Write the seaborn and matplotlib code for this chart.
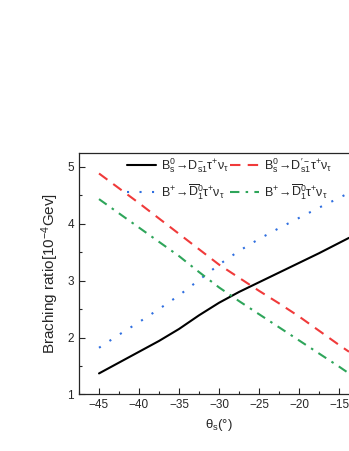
import seaborn as sns
import pandas as pd
import matplotlib.pyplot as plt
from matplotlib.ticker import MultipleLocator

# theta_s (deg) and branching ratios [10^-4]
theta = [-45, -42.5, -40, -37.5, -35, -32.5, -30, -27.5, -25, -22.5, -20, -17.5, -15, -13.75]
br_ds1 = [1.37, 1.56, 1.75, 1.94, 2.15, 2.39, 2.61, 2.80, 2.97, 3.14, 3.31, 3.48, 3.66, 3.75]
br_ds1p = [4.88, 4.62, 4.36, 4.09, 3.82, 3.55, 3.28, 3.05, 2.82, 2.60, 2.37, 2.12, 1.87, 1.75]
br_d1_blue = [1.82, 2.05, 2.27, 2.50, 2.74, 3.01, 3.28, 3.52, 3.73, 3.92, 4.10, 4.28, 4.45, 4.54]
br_d1_green = [4.43, 4.18, 3.93, 3.68, 3.43, 3.15, 2.88, 2.64, 2.41, 2.18, 1.95, 1.72, 1.49, 1.37]

labels = [
    r"$\mathrm{B_s^0\!\rightarrow\!D_{s1}^{-}\tau^{+}\nu_{\tau}}$",
    r"$\mathrm{B_s^0\!\rightarrow\!D_{s1}^{\prime-}\tau^{+}\nu_{\tau}}$",
    r"$\mathrm{B^{+}\!\rightarrow\!\overline{D}_{1}^{0}\tau^{+}\nu_{\tau}}$",
    r"$\mathrm{B^{+}\!\rightarrow\!\overline{D}_{1}^{0}\tau^{+}\nu_{\tau}}$",
]

sns.set_style("ticks")
plt.rcParams["font.family"] = ["Liberation Sans", "DejaVu Sans"]
plt.rcParams["mathtext.fontset"] = "custom"
plt.rcParams["mathtext.rm"] = "Liberation Sans"
plt.rcParams["mathtext.it"] = "Liberation Sans:italic"
plt.rcParams["xtick.direction"] = "in"
plt.rcParams["ytick.direction"] = "in"

fig = plt.figure(figsize=(3.49, 4.51), dpi=100)
ax = fig.add_axes([0.2264, 0.1253, 0.8023, 0.5355])

styles = [
    (br_ds1, "black", None),
    (br_ds1p, "#f03a3a", (5, 3.5)),
    (br_d1_blue, "#2f6fe0", (1.0, 5.0)),
    (br_d1_green, "#2ea55a", (4.5, 3, 1.2, 3)),
]
lines = []
for (vals, col, dash), lab in zip(styles, labels):
    sns.lineplot(x=theta, y=vals, color=col, linewidth=1.5, ax=ax, label=lab)
    ln = ax.get_lines()[-1]
    if dash is not None:
        ln.set_dashes(dash)
    lines.append(ln)

ax.set_xlim(-47.5, -12.5)
ax.set_ylim(1, 5.24)
ax.xaxis.set_major_locator(MultipleLocator(5))
ax.xaxis.set_minor_locator(MultipleLocator(2.5))
ax.yaxis.set_major_locator(MultipleLocator(1))
ax.yaxis.set_minor_locator(MultipleLocator(0.5))
ax.tick_params(which="major", length=4, width=0.8, labelsize=8.5)
ax.tick_params(which="minor", length=2, width=0.8)
for s in ax.spines.values():
    s.set_linewidth(0.9)

ax.set_xlabel(r"$\mathrm{\theta_s}$(°)", fontsize=9.5, labelpad=4)
ax.set_ylabel(r"Braching ratio[10$^{-4}$Gev]", fontsize=11, labelpad=5)

handles = [lines[0], lines[2], lines[1], lines[3]]
labs = [labels[0], labels[2], labels[1], labels[3]]
ax.legend(handles, labs, ncol=2, frameon=False, fontsize=9,
          loc="upper left", bbox_to_anchor=(0.172, 0.985),
          handlelength=2.3, columnspacing=0.1, handletextpad=0.4,
          labelspacing=0.55, borderaxespad=0, borderpad=0)

fig.savefig("out.png", dpi=100)
